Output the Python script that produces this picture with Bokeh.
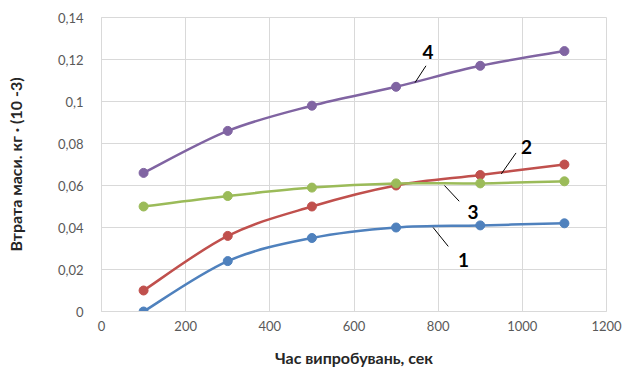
import numpy as np
from bokeh.plotting import figure
from bokeh.models import FixedTicker, CustomJSTickFormatter, Range1d
from bokeh.core.properties import value
from bokeh.embed import file_html
from bokeh.resources import INLINE

# Data
time_s = [100, 300, 500, 700, 900, 1100]
series_1 = [0.000, 0.024, 0.035, 0.040, 0.041, 0.042]
series_2 = [0.010, 0.036, 0.050, 0.060, 0.065, 0.070]
series_3 = [0.050, 0.055, 0.059, 0.061, 0.061, 0.062]
series_4 = [0.066, 0.086, 0.098, 0.107, 0.117, 0.124]
colors = ["#4f81bd", "#c0504d", "#9bbb59", "#8064a2"]
x_ticks = [0, 200, 400, 600, 800, 1000, 1200]
y_ticks = [0, 0.02, 0.04, 0.06, 0.08, 0.10, 0.12, 0.14]

# Callout labels: text, label pos, leader start, leader end
callout_text = ["1", "2", "3", "4"]
callout_x = [860, 1010, 883, 776]
callout_y = [0.0245, 0.0783, 0.0475, 0.1235]
leader_x0 = [788, 985, 815, 771]
leader_y0 = [0.0400, 0.0755, 0.0600, 0.1170]
leader_x1 = [824, 950, 850, 745]
leader_y1 = [0.0310, 0.0655, 0.0525, 0.1090]

FONT = "Lato"

p = figure(width=622, height=369, output_backend="svg", toolbar_location=None,
           x_range=Range1d(0, 1200), y_range=Range1d(0, 0.14),
           min_border_left=101, min_border_right=16, min_border_top=17, min_border_bottom=10)

p.xaxis.ticker = FixedTicker(ticks=x_ticks)
p.yaxis.ticker = FixedTicker(ticks=y_ticks)
p.yaxis.formatter = CustomJSTickFormatter(
    code="return (Math.round(tick*100)/100).toString().replace('.', ',');")

for ax in (p.xaxis[0], p.yaxis[0]):
    ax.major_tick_line_color = None
    ax.minor_tick_line_color = None
    ax.axis_line_color = "#d9d9d9"
    ax.major_label_text_font = FONT
    ax.major_label_text_font_size = "13px"
    ax.major_label_text_color = "#595959"
    ax.axis_label_text_font = FONT
    ax.axis_label_text_font_size = "16px"
    ax.axis_label_text_font_style = "bold"
    ax.axis_label_text_color = "#262626"

p.xaxis.axis_label = "Час випробувань, сек"
p.yaxis.axis_label = "Втрата маси. кг · (10 -3)"
p.xaxis.major_label_standoff = 3
p.xaxis.axis_label_standoff = 14
p.yaxis.major_label_standoff = 12
p.yaxis.axis_label_standoff = 30

p.grid.grid_line_color = "#d9d9d9"
p.outline_line_color = "#d9d9d9"
p.background_fill_color = "white"
p.border_fill_color = "white"


def smooth_segments(xs, ys):
    xs = np.asarray(xs, float)
    ys = np.asarray(ys, float)
    n = len(xs)
    xp = np.concatenate([[xs[0]], xs, [xs[-1]]])
    yp = np.concatenate([[ys[0]], ys, [ys[-1]]])
    x0 = xs[:-1]; y0 = ys[:-1]; x1 = xs[1:]; y1 = ys[1:]
    cx0 = x0 + (xp[2:n + 1] - xp[0:n - 1]) / 6
    cy0 = y0 + (yp[2:n + 1] - yp[0:n - 1]) / 6
    cx1 = x1 - (xp[3:n + 2] - xp[1:n]) / 6
    cy1 = y1 - (yp[3:n + 2] - yp[1:n]) / 6
    return dict(x0=x0, y0=y0, x1=x1, y1=y1, cx0=cx0, cy0=cy0, cx1=cx1, cy1=cy1)


for ys, c in zip([series_1, series_2, series_3, series_4], colors):
    seg = smooth_segments(time_s, ys)
    p.bezier(x0=seg["x0"], y0=seg["y0"], x1=seg["x1"], y1=seg["y1"],
             cx0=seg["cx0"], cy0=seg["cy0"], cx1=seg["cx1"], cy1=seg["cy1"],
             line_color=c, line_width=2.5)
    p.scatter(time_s, ys, size=9, color=c, marker="circle")

p.segment(x0=leader_x0, y0=leader_y0, x1=leader_x1, y1=leader_y1,
          line_color="black", line_width=1)
p.text(x=callout_x, y=callout_y, text=callout_text, text_font=value(FONT),
       text_font_size="19px", text_font_style="bold", text_color="black",
       text_align="center", text_baseline="middle")

open("out.html", "w").write(file_html(p, INLINE))
